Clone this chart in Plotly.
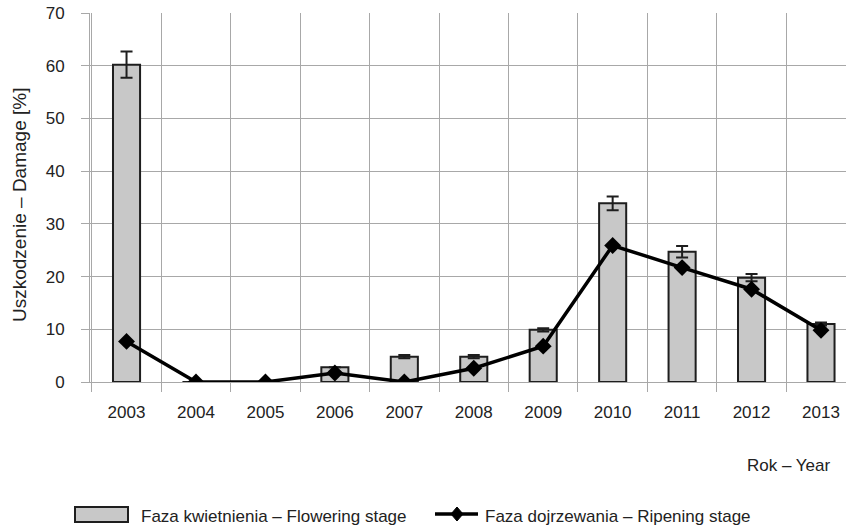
import plotly.graph_objects as go

years = ["2003", "2004", "2005", "2006", "2007", "2008", "2009", "2010", "2011", "2012", "2013"]
flowering = [60.2, 0, 0, 2.8, 4.8, 4.8, 9.9, 33.9, 24.7, 19.8, 11.0]
flowering_err = [2.5, 0, 0, 0, 0.3, 0.3, 0.3, 1.3, 1.1, 0.7, 0.3]
ripening = [7.7, 0, 0, 1.7, 0, 2.6, 6.8, 25.9, 21.7, 17.6, 9.8]

y_title = "Uszkodzenie – Damage [%]"
x_title = "Rok – Year"
legend_bar = "Faza kwietnienia – Flowering stage"
legend_line = "Faza dojrzewania – Ripening stage"

W, H = 846, 528
L, R, T, B = 90, 0, 13, 146
PW, PH = W - L - R, H - T - B

def px(x):
    return (x - L) / PW

def py(y):
    return (H - B - y) / PH

FONT = "Liberation Sans, Arial, sans-serif"
GRID = "#a8a8a8"
FS = 17

fig = go.Figure()
fig.add_trace(go.Bar(
    x=years, y=flowering, width=0.39,
    marker=dict(color="#c8c8c8", line=dict(color="#1e1e1e", width=2)),
    error_y=dict(type="data", array=flowering_err, visible=True,
                 color="#1e1e1e", thickness=2, width=6),
    showlegend=False,
))
fig.add_trace(go.Scatter(
    x=years, y=ripening, mode="lines+markers",
    line=dict(color="#000000", width=3.5),
    marker=dict(symbol="diamond", size=13, color="#000000"),
    showlegend=False,
))

fig.update_layout(
    width=W, height=H,
    margin=dict(l=L, r=R, t=T, b=B),
    paper_bgcolor="white", plot_bgcolor="white",
    font=dict(family=FONT, size=FS, color="#222222"),
)
fig.update_xaxes(
    type="category", range=[-0.526, 10.36],
    tickson="boundaries", showgrid=True, gridcolor=GRID, gridwidth=1,
    ticks="outside", ticklen=9, tickcolor=GRID,
    showline=True, linecolor=GRID, linewidth=1,
    tickfont=dict(size=FS), ticklabelstandoff=15,
)
fig.update_yaxes(
    range=[0, 70], dtick=10, showgrid=True, gridcolor=GRID, gridwidth=1,
    ticks="outside", ticklen=8, tickcolor=GRID,
    showline=True, linecolor=GRID, linewidth=1, zeroline=False,
    tickfont=dict(size=FS), ticklabelstandoff=13,
)

fig.add_annotation(x=px(20), y=py(205), xref="paper", yref="paper",
                   text=y_title, textangle=-90, showarrow=False,
                   font=dict(size=19), xanchor="center", yanchor="middle")
fig.add_annotation(x=px(789), y=py(466), xref="paper", yref="paper",
                   text=x_title, showarrow=False, font=dict(size=FS),
                   xanchor="center", yanchor="middle")

# custom legend
fig.add_shape(type="rect", xref="paper", yref="paper",
              x0=px(75), x1=px(128), y0=py(522), y1=py(507),
              fillcolor="#c8c8c8", line=dict(color="#1e1e1e", width=2))
fig.add_annotation(x=px(139), y=py(516), xref="paper", yref="paper",
                   text=legend_bar, showarrow=False, font=dict(size=FS),
                   xanchor="left", yanchor="middle")
fig.add_shape(type="line", xref="paper", yref="paper",
              x0=px(435), x1=px(478), y0=py(514), y1=py(514),
              line=dict(color="#000000", width=3.5))
cx, cy = 457, 514
fig.add_shape(type="path", xref="paper", yref="paper",
              path=f"M {px(cx-6)} {py(cy)} L {px(cx)} {py(cy-7)} L {px(cx+6)} {py(cy)} L {px(cx)} {py(cy+7)} Z",
              fillcolor="#000000", line=dict(color="#000000", width=1))
fig.add_annotation(x=px(483), y=py(516), xref="paper", yref="paper",
                   text=legend_line, showarrow=False, font=dict(size=FS),
                   xanchor="left", yanchor="middle")

fig.write_html("out.html", config={"displayModeBar": False},
               post_script="document.body.style.margin='0px';document.body.style.overflow='hidden';")
